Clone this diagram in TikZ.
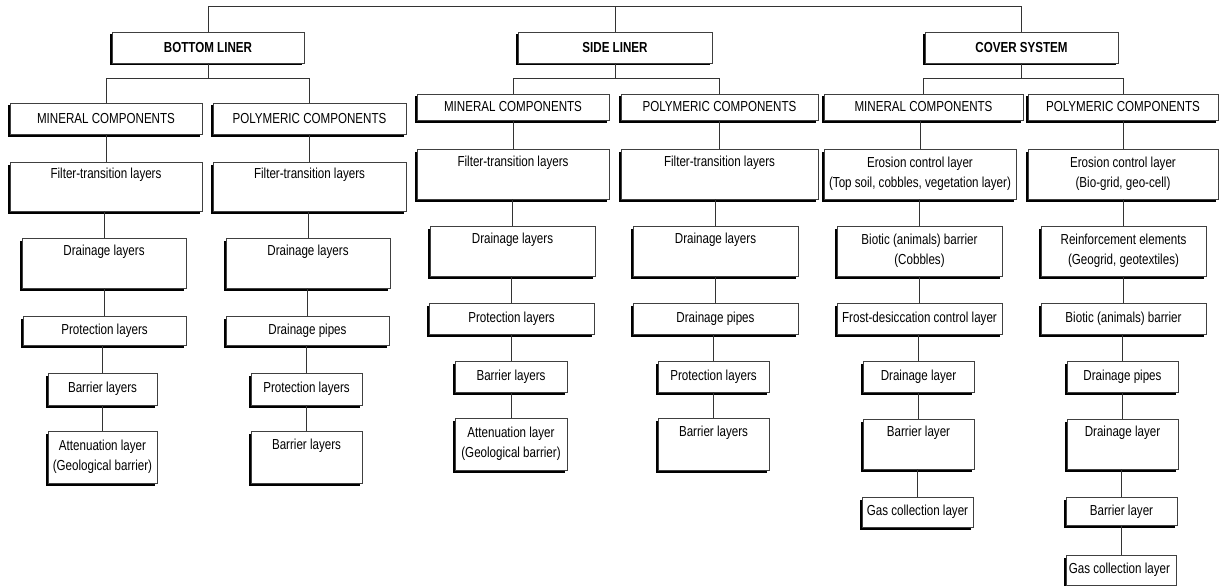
\documentclass[tikz,border=0pt]{standalone}
\usepackage{fontspec}
\setmainfont{Liberation Sans}[FakeStretch=0.8]
\usepackage{tikz}
\usetikzlibrary{shadows}

\begin{document}
\begin{tikzpicture}[x=1pt, y=-1pt,
    layer/.style={draw=black!75, fill=white, line width=0.7pt, inner sep=0pt,
        align=center, font=\fontsize{14.5}{20}\selectfont,
        drop shadow={shadow xshift=-2.5pt, shadow yshift=-2.5pt, opacity=1, fill=black}},
    head/.style={layer, font=\fontsize{14.5}{20}\selectfont\bfseries},
    link/.style={draw=black!80, line width=0.8pt}]
    \useasboundingbox (0,0) rectangle (1219,586);

    % main liner parts
    \foreach \n/\x/\w/\t in {bl/208/192/BOTTOM LINER, sl/615/194/SIDE LINER,
        cs/1021.5/193/COVER SYSTEM} {
        \node[head, minimum width=\w pt, minimum height=31pt] (\n) at (\x,47.5) {\t};
    }

    % components and layers: name/x/y/width/height/text
    \foreach \n/\x/\y/\w/\h/\t in {
        bm0/106/118.5/192/31/MINERAL COMPONENTS,
        bm1/106/186.5/192/49/{Filter-transition layers\\\strut},
        bm2/104/263/164/50/{Drainage layers\\\strut},
        bm3/104.5/330.5/163/29/Protection layers,
        bm4/102.5/389/109/32/Barrier layers,
        bm5/102.5/457/109/52/{Attenuation layer\\(Geological barrier)},
        bp0/309.5/118.5/193/31/POLYMERIC COMPONENTS,
        bp1/309.5/186.5/193/49/{Filter-transition layers\\\strut},
        bp2/308/263/164/50/{Drainage layers\\\strut},
        bp3/307.5/330.5/163/29/Drainage pipes,
        bp4/306.5/389/111/32/Protection layers,
        bp5/306.5/457/111/52/{Barrier layers\\\strut},
        sm0/513/107/192/26/MINERAL COMPONENTS,
        sm1/513/174/192/50/{Filter-transition layers\\\strut},
        sm2/512.5/251/165/50/{Drainage layers\\\strut},
        sm3/511.5/318.5/165/31/Protection layers,
        sm4/511/376.5/112/31/Barrier layers,
        sm5/511/444/112/52/{Attenuation layer\\(Geological barrier)},
        sp0/719.5/107/197/26/POLYMERIC COMPONENTS,
        sp1/719.5/174/197/50/{Filter-transition layers\\\strut},
        sp2/715.5/251/165/50/{Drainage layers\\\strut},
        sp3/715.5/318.5/165/31/Drainage pipes,
        sp4/713.5/376.5/111/31/Protection layers,
        sp5/713.5/444/111/52/{Barrier layers\\\strut},
        cm0/923.5/107/199/26/MINERAL COMPONENTS,
        cm1/920/174/192/50/{Erosion control layer\\(Top soil, cobbles, vegetation layer)},
        cm2/919.5/251/165/50/{Biotic (animals) barrier\\(Cobbles)},
        cm3/919.5/318.5/165/31/Frost-desiccation control layer,
        cm4/918.5/376.5/111/31/Drainage layer,
        cm5/918.5/444/111/50/{Barrier layer\\\strut},
        cm6/917.5/512/111/30/Gas collection layer,
        cp0/1123/107/190/26/POLYMERIC COMPONENTS,
        cp1/1123/174/190/50/{Erosion control layer\\(Bio-grid, geo-cell)},
        cp2/1123.5/251/165/50/{Reinforcement elements\\(Geogrid, geotextiles)},
        cp3/1123.5/318.5/165/31/Biotic (animals) barrier,
        cp4/1122.5/376.5/111/31/Drainage pipes,
        cp5/1122.5/444/111/50/{Drainage layer\\\strut},
        cp6/1121.5/511.5/111/28/Barrier layer,
        cp7/1121/570/110/30/Gas collection layer
    } {
        \node[layer, minimum width=\w pt, minimum height=\h pt] (\n) at (\x,\y) {\t};
    }

    % top bus
    \draw[link] (bl.north) -- ++(0,-25) -| (cs.north);
    \draw[link] (sl.north) -- ++(0,-25);

    % liner part to its two component groups
    \foreach \p/\l/\r in {bl/bm0/bp0, sl/sm0/sp0, cs/cm0/cp0} {
        \draw[link] (\p.south) -- ++(0,15) coordinate (j);
        \draw[link] (\l.north) |- (j) -| (\r.north);
    }

    % layer chains
    \foreach \a/\b in {bm0/bm1, bm1/bm2, bm2/bm3, bm3/bm4, bm4/bm5,
        bp0/bp1, bp1/bp2, bp2/bp3, bp3/bp4, bp4/bp5,
        sm0/sm1, sm1/sm2, sm2/sm3, sm3/sm4, sm4/sm5,
        sp0/sp1, sp1/sp2, sp2/sp3, sp3/sp4, sp4/sp5,
        cm0/cm1, cm1/cm2, cm2/cm3, cm3/cm4, cm4/cm5, cm5/cm6,
        cp0/cp1, cp1/cp2, cp2/cp3, cp3/cp4, cp4/cp5, cp5/cp6, cp6/cp7} {
        \draw[link] (\b.north) -- (\b.north |- \a.south);
    }
\end{tikzpicture}
\end{document}
